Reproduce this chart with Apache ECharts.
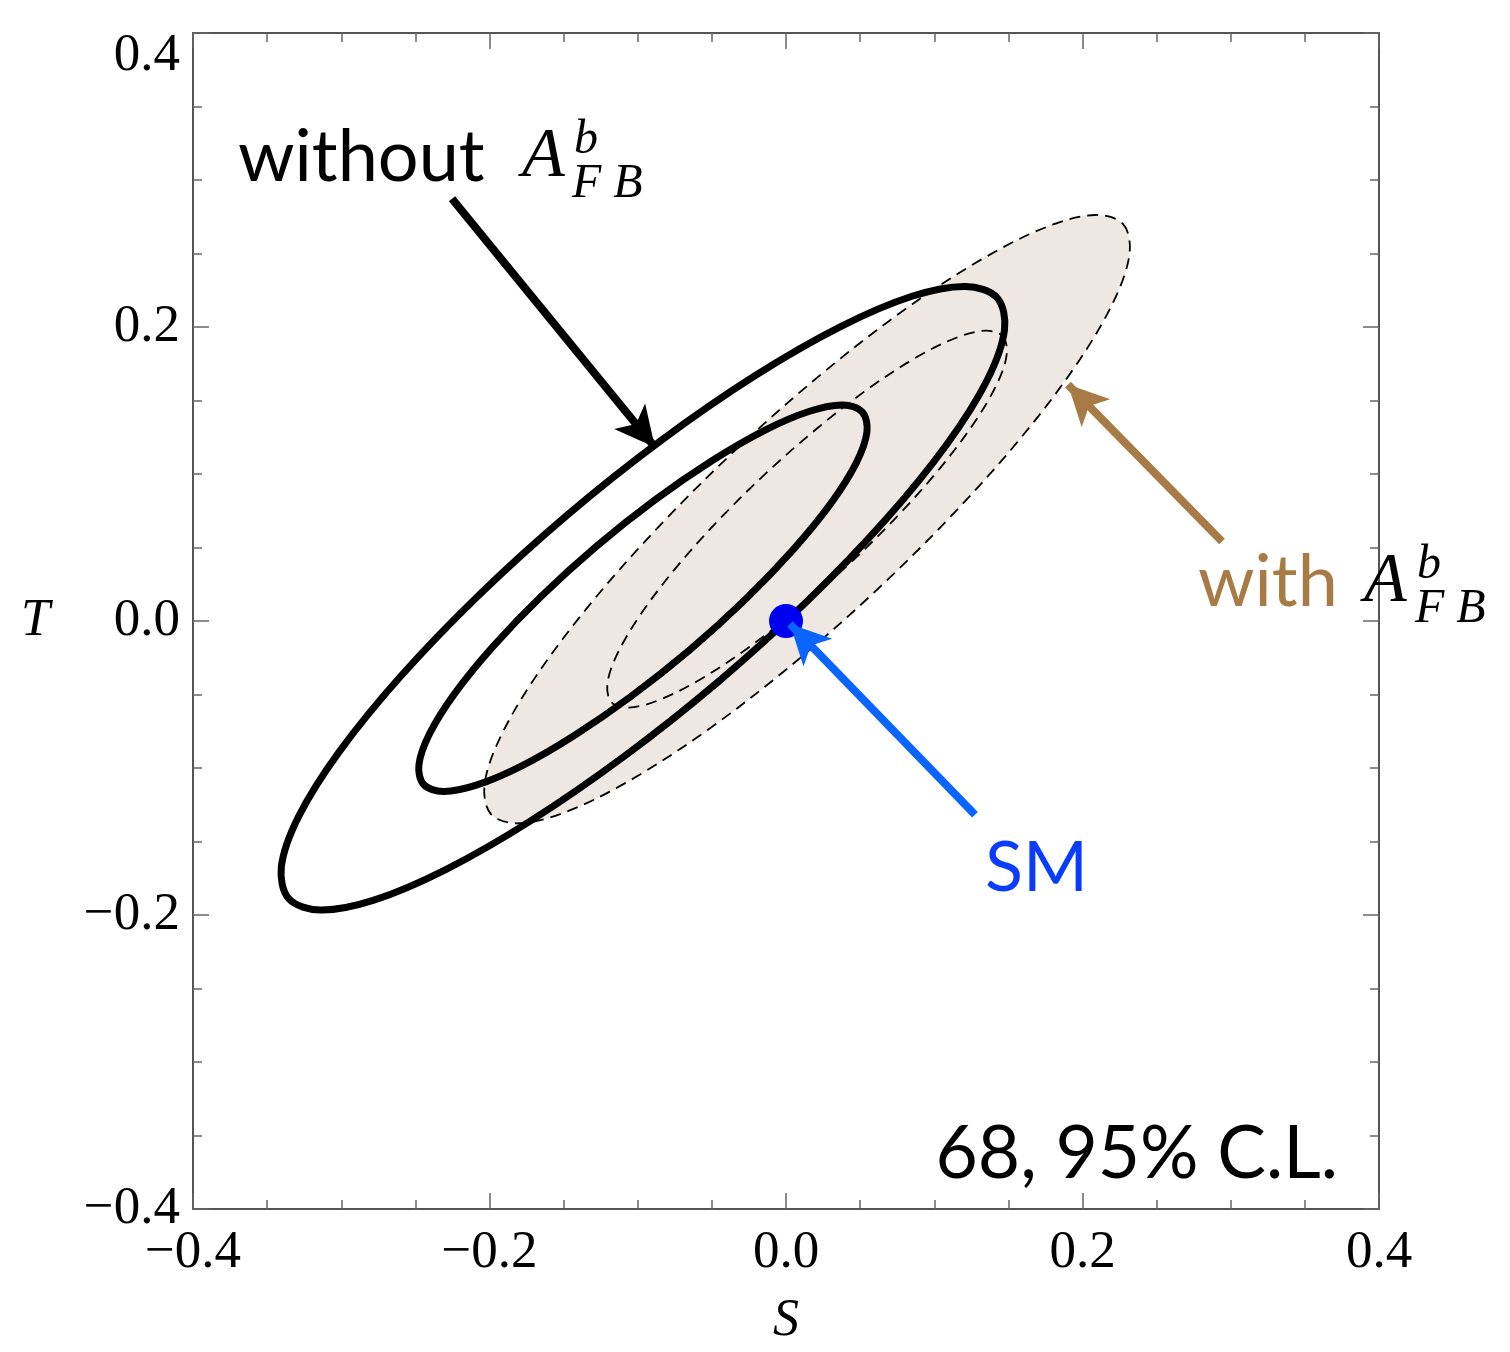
<!DOCTYPE html>
<html>
<head>
<meta charset="utf-8">
<script src="https://cdn.jsdelivr.net/npm/echarts@6/dist/echarts.min.js"></script>
<style>
  html, body { margin: 0; padding: 0; background: #fff; }
  #main { width: 1510px; height: 1352px; }
</style>
</head>
<body>
<div id="main"></div>
<script>
// contour points [S, T]
const without95 = [
  [0.1424, 0.2199], [0.1474, 0.1982], [0.1358, 0.1641], [0.1083, 0.1199], [0.0669, 0.0686], [0.0144, 0.0136],
  [-0.0457, -0.0413], [-0.1093, -0.0922], [-0.1720, -0.1358], [-0.2295, -0.1691], [-0.2780, -0.1899], [-0.3141, -0.1966],
  [-0.3354, -0.1889], [-0.3404, -0.1672], [-0.3288, -0.1331], [-0.3013, -0.0889], [-0.2599, -0.0376], [-0.2074, 0.0174],
  [-0.1473, 0.0723], [-0.0837, 0.1232], [-0.0210, 0.1668], [0.0365, 0.2001], [0.0850, 0.2209], [0.1211, 0.2276]
];
const without68 = [
  [0.0515, 0.1421], [0.0546, 0.1287], [0.0474, 0.1076], [0.0304, 0.0802], [0.0047, 0.0484], [-0.0278, 0.0143],
  [-0.0650, -0.0197], [-0.1044, -0.0512], [-0.1433, -0.0782], [-0.1789, -0.0989], [-0.2089, -0.1117], [-0.2313, -0.1160],
  [-0.2445, -0.1111], [-0.2476, -0.0977], [-0.2404, -0.0766], [-0.2234, -0.0492], [-0.1977, -0.0174], [-0.1652, 0.0167],
  [-0.1280, 0.0507], [-0.0886, 0.0822], [-0.0497, 0.1092], [-0.0141, 0.1299], [0.0159, 0.1427], [0.0383, 0.1470]
];
const with95 = [
  [0.2273, 0.2701], [0.2318, 0.2504], [0.2214, 0.2183], [0.1970, 0.1761], [0.1600, 0.1265], [0.1131, 0.0732],
  [0.0595, 0.0195], [0.0028, -0.0308], [-0.0531, -0.0743], [-0.1045, -0.1080], [-0.1477, -0.1296], [-0.1799, -0.1376],
  [-0.1989, -0.1315], [-0.2034, -0.1118], [-0.1930, -0.0797], [-0.1686, -0.0375], [-0.1316, 0.0121], [-0.0847, 0.0654],
  [-0.0311, 0.1191], [0.0256, 0.1694], [0.0815, 0.2129], [0.1329, 0.2466], [0.1761, 0.2682], [0.2083, 0.2762]
];
const with68 = [
  [0.1461, 0.1938], [0.1489, 0.1815], [0.1425, 0.1617], [0.1273, 0.1354], [0.1045, 0.1047], [0.0754, 0.0716],
  [0.0422, 0.0384], [0.0071, 0.0073], [-0.0275, -0.0197], [-0.0593, -0.0406], [-0.0860, -0.0539], [-0.1060, -0.0589],
  [-0.1177, -0.0552], [-0.1205, -0.0429], [-0.1141, -0.0231], [-0.0989, 0.0032], [-0.0761, 0.0339], [-0.0470, 0.0670],
  [-0.0138, 0.1002], [0.0213, 0.1313], [0.0559, 0.1583], [0.0877, 0.1792], [0.1144, 0.1925], [0.1344, 0.1975]
];
const smPoint = [[0, 0]];

// annotation arrows: [from, to]
const arrowWithout = [[-0.2253, 0.2872], [-0.0884, 0.1182]];
const arrowWith = [[0.2941, 0.0541], [0.1902, 0.1608]];
const arrowSM = [[0.1275, -0.1318], [0.0027, -0.0020]];

const axisTicks = [-0.4, -0.2, 0.0, 0.2, 0.4];

const serif = '"Liberation Serif", "DejaVu Serif", serif';
const sans = 'Lato, "Open Sans", sans-serif';

let myChart = echarts.init(document.getElementById('main'));

function fmt(v) {
	return (v < 0 ? '\u2212' : '') + Math.abs(v).toFixed(1);
}

function contour(pts, style) {
	return {
		type: 'custom',
		silent: true,
		animation: false,
		data: pts,
		renderItem: function (params, api) {
			if (params.dataIndex !== 0) return null;
			return {
				type: 'polygon',
				shape: { points: pts.map(p => api.coord(p)), smooth: 0.34 },
				style: style
			};
		}
	};
}

function axisCommon(showLabel) {
	return {
		type: 'value',
		min: axisTicks[0],
		max: axisTicks[axisTicks.length - 1],
		interval: 0.2,
		splitLine: { show: false },
		axisLine: { show: true, onZero: false, lineStyle: { color: '#555', width: 2 } },
		axisTick: { show: true, inside: true, length: 16, lineStyle: { color: '#666', width: 1.5 } },
		minorTick: { show: true, splitNumber: 4, length: 9, lineStyle: { color: '#666', width: 1.5 } },
		axisLabel: { show: showLabel }
	};
}

let xBottom = axisCommon(true);
xBottom.position = 'bottom';
xBottom.name = 'S';
xBottom.nameLocation = 'middle';
xBottom.nameGap = 86;
xBottom.nameTextStyle = { fontFamily: serif, fontStyle: 'italic', fontSize: 52, color: '#000' };
xBottom.axisLabel = {
	show: true, showMinLabel: true, showMaxLabel: true, margin: 18,
	fontFamily: serif, fontSize: 53, color: '#000', formatter: fmt
};
let xTop = axisCommon(false);
xTop.position = 'top';

let yLeft = axisCommon(true);
yLeft.position = 'left';
yLeft.name = 'T';
yLeft.nameLocation = 'middle';
yLeft.nameRotate = 0;
yLeft.nameGap = 143;
yLeft.nameTextStyle = { fontFamily: serif, fontStyle: 'italic', fontSize: 52, color: '#000' };
yLeft.axisLabel = {
	show: true, showMinLabel: true, showMaxLabel: true, margin: 13,
	fontFamily: serif, fontSize: 53, color: '#000',
	formatter: function (v) {
		if (Math.abs(v - 0.4) < 1e-9) return '{t|' + fmt(v) + '}';
		return fmt(v);
	},
	rich: { t: { fontFamily: serif, fontSize: 53, color: '#000', padding: [46, 0, 0, 0] } }
};
let yRight = axisCommon(false);
yRight.position = 'right';

let option = {
	backgroundColor: '#fff',
	animation: false,
	grid: { left: 193, right: 131, top: 33, bottom: 135 },
	xAxis: [xBottom, xTop],
	yAxis: [yLeft, yRight],
	series: [
		contour(with95, { fill: '#efe7e1', stroke: null }),
		contour(with95, { fill: null, stroke: '#000', lineWidth: 1.8, lineDash: [11, 7] }),
		contour(with68, { fill: null, stroke: '#000', lineWidth: 1.8, lineDash: [11, 7] }),
		contour(without95, { fill: null, stroke: '#000', lineWidth: 7 }),
		contour(without68, { fill: null, stroke: '#000', lineWidth: 7 }),
		{
			type: 'scatter',
			data: smPoint,
			symbolSize: 34,
			itemStyle: { color: '#0000f0', opacity: 1 },
			silent: true,
			z: 3,
			markLine: {
				silent: true,
				animation: false,
				symbol: ['none', 'arrow'],
				symbolSize: [30, 40],
				label: { show: false },
				emphasis: { disabled: true },
				data: [
					[{ coord: arrowWithout[0], lineStyle: { color: '#000', width: 8, type: 'solid', opacity: 1 } }, { coord: arrowWithout[1] }],
					[{ coord: arrowWith[0], lineStyle: { color: '#a87a45', width: 8, type: 'solid', opacity: 1 } }, { coord: arrowWith[1] }],
					[{ coord: arrowSM[0], lineStyle: { color: '#0a64ff', width: 8, type: 'solid', opacity: 1 } }, { coord: arrowSM[1] }]
				]
			}
		}
	],
	graphic: [
		{ type: 'text', z: 10, style: { text: 'without', x: 238, y: 158, fontFamily: sans, fontSize: 72, fill: '#000', textVerticalAlign: 'middle' } },
		{ type: 'text', z: 10, style: { text: 'A', x: 522, y: 158, fontFamily: serif, fontStyle: 'italic', fontSize: 70, fill: '#000', textVerticalAlign: 'middle' } },
		{ type: 'text', z: 10, style: { text: 'b', x: 574, y: 140, fontFamily: serif, fontStyle: 'italic', fontSize: 48, fill: '#000', textVerticalAlign: 'middle' } },
		{ type: 'text', z: 10, style: { text: 'F B', x: 572, y: 184, fontFamily: serif, fontStyle: 'italic', fontSize: 48, fill: '#000', textVerticalAlign: 'middle' } },
		{ type: 'text', z: 10, style: { text: 'with', x: 1198, y: 583, fontFamily: sans, fontSize: 72, fill: '#a87a45', textVerticalAlign: 'middle' } },
		{ type: 'text', z: 10, style: { text: 'A', x: 1364, y: 583, fontFamily: serif, fontStyle: 'italic', fontSize: 70, fill: '#000', textVerticalAlign: 'middle' } },
		{ type: 'text', z: 10, style: { text: 'b', x: 1417, y: 565, fontFamily: serif, fontStyle: 'italic', fontSize: 48, fill: '#000', textVerticalAlign: 'middle' } },
		{ type: 'text', z: 10, style: { text: 'F B', x: 1415, y: 609, fontFamily: serif, fontStyle: 'italic', fontSize: 48, fill: '#000', textVerticalAlign: 'middle' } },
		{ type: 'text', z: 10, style: { text: 'SM', x: 985, y: 868, fontFamily: sans, fontSize: 70, fill: '#0a3cff', textVerticalAlign: 'middle' } },
		{ type: 'text', z: 10, style: { text: '68, 95% C.L.', x: 1338, y: 1154, fontFamily: sans, fontSize: 73, fill: '#000', textAlign: 'right', textVerticalAlign: 'middle' } }
	]
};

myChart.setOption(option);
</script>
</body>
</html>
